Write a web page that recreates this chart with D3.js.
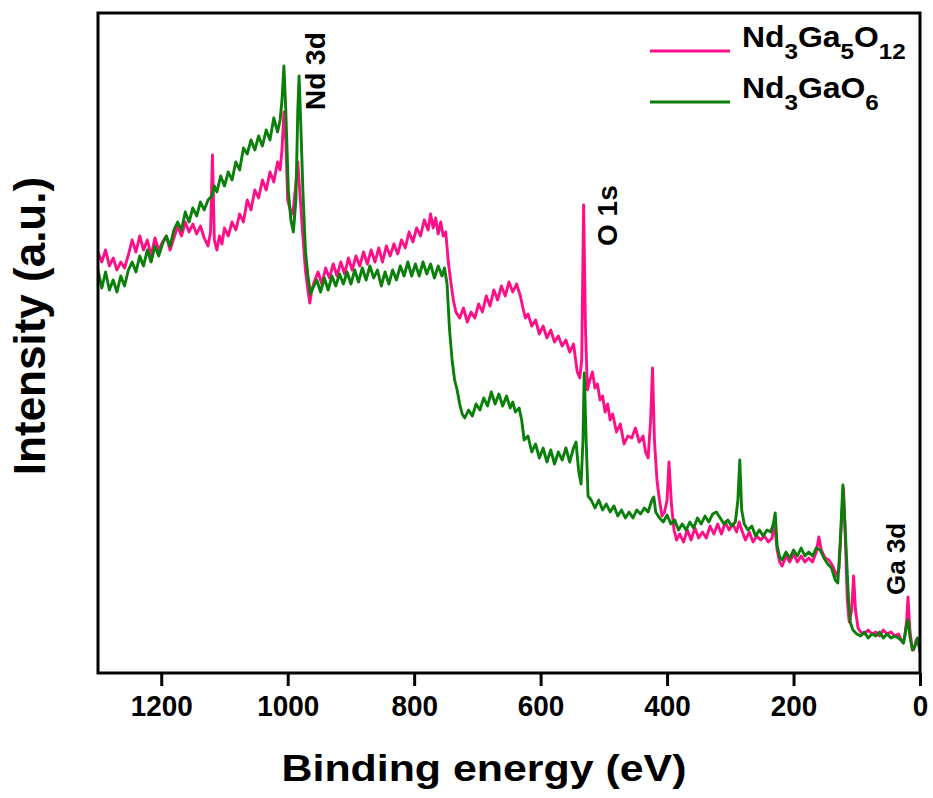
<!DOCTYPE html>
<html>
<head>
	<meta charset="utf-8">
	<title>XPS survey</title>
	<script src="https://d3js.org/d3.v7.min.js"></script>
	<style>
		body { margin: 0; background: #fff; }
		text { font-family: "Liberation Sans", Arial, sans-serif; font-weight: bold; fill: #000; }
	</style>
</head>
<body>

<div id="viz"></div>

<script>

// Nd3Ga5O12 survey (binding energy in eV, intensity in a.u.)
var garnetEnergy = [1300,1294,1288,1282,1276,1270,1264,1258,1252,1246,1240,1234,1228,1222,1216,1210,1204,1198,1192,1186,1180,1174,1168,1162,1156,1150,1144,1138,1132,1126,1122,1119,1116,1112,1108,1104,1100,1094,1088,1082,1076,1070,1064,1058,1052,1046,1040,1034,1028,1022,1016,1012,1009,1006,1003,1000,996,992,988,984,980,976,972,968,965,962,958,952,946,940,934,928,922,916,910,904,898,892,886,880,874,868,862,856,850,844,838,832,826,820,814,808,802,796,790,784,778,774,770,766,762,758,754,750,746,742,738,734,728,722,716,710,704,698,692,686,680,674,668,662,656,650,644,638,632,628,624,620,614,608,602,596,590,584,578,572,566,560,554,548,542,538,535,532,529,526,522,518,514,510,506,502,498,494,490,486,480,474,468,462,456,450,444,438,434,430,426,423,420,416,412,408,404,400,397,393,389,385,380,374,368,362,356,350,344,338,332,326,320,314,308,302,296,290,286,282,276,270,264,258,252,246,240,234,230,226,222,218,212,206,200,194,188,182,176,170,164,160,156,150,144,138,132,128,124,121,118,115,112,108,105,102,98,94,88,82,76,70,64,58,52,46,40,34,30,27,24,21,19,16,13,10,6,3,0];
var garnetCounts = [421,411,423,407,415,403,411,405,418,433,421,437,423,433,417,435,423,431,437,423,435,447,437,451,441,449,439,447,435,427,441,518,433,423,437,429,445,437,451,443,459,451,473,463,483,475,493,483,501,491,511,503,523,561,533,473,463,459,483,511,473,437,403,383,370,383,391,401,389,405,395,409,397,411,399,415,403,417,407,421,409,423,411,425,411,427,417,429,419,433,425,441,431,445,437,453,443,459,445,455,439,451,437,441,411,391,373,361,355,365,351,361,355,369,361,377,367,383,373,387,377,391,381,389,377,365,355,359,347,353,339,347,335,343,331,337,327,333,321,329,301,295,313,468,343,283,293,301,285,289,273,277,261,269,253,259,241,249,229,237,235,245,231,237,221,215,253,305,233,193,173,157,161,173,211,168,143,133,139,131,143,133,145,135,141,135,147,139,149,139,151,143,149,141,151,143,133,141,131,137,133,137,131,135,150,123,111,107,117,111,119,111,117,111,115,111,121,136,123,115,113,107,97,105,153,185,133,73,51,63,97,63,45,41,39,43,39,41,37,43,39,41,37,39,33,30,37,53,76,43,27,23,33,31,23];

// Nd3GaO6 survey
var oxideEnergy = [1300,1294,1288,1282,1276,1270,1264,1258,1252,1246,1240,1234,1228,1222,1216,1210,1204,1198,1192,1186,1180,1174,1168,1162,1156,1150,1144,1138,1132,1126,1120,1116,1112,1106,1100,1094,1088,1082,1076,1070,1064,1058,1052,1046,1040,1034,1028,1022,1016,1012,1009,1006,1003,999,995,991,987,984,982,979,976,972,968,964,960,954,948,942,936,930,924,918,912,906,900,894,888,882,876,870,864,858,852,846,840,834,828,822,816,810,804,798,792,786,780,774,768,762,756,752,748,744,740,736,732,728,724,720,714,708,702,696,690,684,678,672,666,660,654,648,644,640,634,630,626,620,614,608,602,596,590,584,578,572,566,560,554,548,544,540,536,533,531,528,525,520,514,508,502,496,490,484,478,472,466,460,454,448,442,436,430,424,421,418,412,406,400,394,388,382,376,370,364,358,352,346,340,334,328,322,316,310,304,298,292,288,285,282,278,272,266,260,254,248,242,236,232,229,226,222,218,212,206,200,194,188,182,176,170,164,158,152,146,140,134,130,126,122,119,116,113,110,106,100,94,88,82,76,70,64,58,52,46,40,34,30,26,22,19,16,12,8,4,2,0];
var oxideCounts = [403,385,401,383,393,381,397,387,403,411,401,417,407,423,411,427,417,429,437,427,443,451,443,461,451,465,457,471,463,473,477,487,481,497,487,501,493,511,503,525,519,533,523,537,527,543,533,555,541,553,573,607,563,483,453,441,473,563,597,543,483,423,397,379,385,393,381,395,383,397,387,399,389,401,389,403,391,405,393,407,395,403,387,401,389,403,393,407,397,411,397,409,397,411,399,409,395,407,397,405,389,343,313,293,283,269,259,255,263,257,269,263,275,267,281,269,279,267,277,265,271,261,265,253,233,237,221,229,215,225,211,223,209,221,213,225,211,225,231,203,189,233,300,233,177,173,165,173,163,169,161,167,157,163,155,161,155,163,159,165,161,173,176,161,155,151,158,149,153,143,149,143,151,145,155,149,157,151,159,161,155,149,153,147,151,173,213,163,149,143,147,137,143,137,143,141,149,160,128,116,113,121,115,123,117,125,117,121,117,125,123,115,109,105,93,90,133,188,153,113,73,50,43,39,37,41,35,39,37,41,35,39,35,37,35,33,30,45,53,37,23,27,35,29,20];

var seriesNames = ["Nd3Ga5O12", "Nd3GaO6"];
var seriesColors = ["#ff0f87", "#0a7f0a"];
var xTicks = [1200, 1000, 800, 600, 400, 200, 0];

// peak labels: text and binding energy where the label sits
var peakLabels = ["Nd 3d", "O 1s", "Ga 3d"];
var peakLabelEnergy = [941, 479, 24];
var peakLabelTop = [110, 246, 595];
var peakLabelSize = [28, 28, 26];

var W = 933, H = 798;
var margin = {top: 13, right: 13, bottom: 125, left: 98},
	width = W - margin.left - margin.right,
	height = H - margin.top - margin.bottom;

var svg = d3.select("#viz")
	.append("svg")
		.attr("width", W)
		.attr("height", H)
	.append("g")
		.attr("transform", "translate(" + margin.left + "," + margin.top + ")");

var x = d3.scaleLinear()
	.domain([1300, 0])
	.range([0, width]);

var y = d3.scaleLinear()
	.domain([0, 660])
	.range([height, 0]);

svg.append("clipPath")
	.attr("id", "clip")
	.append("rect")
		.attr("width", width)
		.attr("height", height);

var line = d3.line()
	.x(function(d) { return x(d[0]); })
	.y(function(d) { return y(d[1]); });

var garnet = d3.zip(garnetEnergy, garnetCounts);
var oxide = d3.zip(oxideEnergy, oxideCounts);

// pink first, green on top
[garnet, oxide].forEach(function(data, i) {
	svg.append("path")
		.datum(data)
		.attr("clip-path", "url(#clip)")
		.attr("fill", "none")
		.attr("stroke", seriesColors[i])
		.attr("stroke-width", 2.9)
		.attr("stroke-linejoin", "round")
		.attr("d", line);
});

// frame
svg.append("rect")
	.attr("width", width)
	.attr("height", height)
	.attr("fill", "none")
	.attr("stroke", "#000")
	.attr("stroke-width", 3);

// bottom axis
var xAxis = svg.append("g")
	.attr("transform", "translate(0," + height + ")")
	.call(d3.axisBottom(x).tickValues(xTicks).tickSize(13).tickPadding(9).tickFormat(d3.format("d")));
xAxis.select(".domain").remove();
xAxis.selectAll("line").attr("stroke", "#000").attr("stroke-width", 3);
xAxis.selectAll("text")
	.style("font-size", "30px")
	.style("font-family", "'Liberation Sans', Arial, sans-serif")
	.style("font-weight", "bold")
	.attr("fill", "#000")
	.attr("transform", "scale(0.93,1)");

// axis titles
svg.append("text")
	.attr("x", width / 2 - 25)
	.attr("y", 768)
	.attr("text-anchor", "middle")
	.attr("textLength", 405)
	.attr("lengthAdjust", "spacingAndGlyphs")
	.style("font-size", "36px")
	.text("Binding energy (eV)");

svg.append("text")
	.attr("transform", "translate(" + (45 - margin.left) + "," + (326 - margin.top) + ") rotate(-90)")
	.attr("text-anchor", "middle")
	.style("font-size", "44px")
	.text("Intensity (a.u.)");

// peak labels
peakLabels.forEach(function(t, i) {
	svg.append("text")
		.attr("transform", "translate(" + x(peakLabelEnergy[i]) + "," + (peakLabelTop[i] - margin.top) + ") rotate(-90)")
		.style("font-size", peakLabelSize[i] + "px")
		.text(t);
});

// legend
var legendRows = [
	[["Nd", 0], ["3", 1], ["Ga", 0], ["5", 1], ["O", 0], ["12", 1]],
	[["Nd", 0], ["3", 1], ["GaO", 0], ["6", 1]]
];
legendRows.forEach(function(parts, i) {
	var ly = 51 + i * 51 - margin.top;
	svg.append("line")
		.attr("x1", 650 - margin.left).attr("x2", 730 - margin.left)
		.attr("y1", ly).attr("y2", ly)
		.attr("stroke", seriesColors[i])
		.attr("stroke-width", 3);
	var t = svg.append("text")
		.attr("transform", "translate(" + (742 - margin.left) + "," + (ly + 8) + ") scale(1.1,1)")
		.style("font-size", "29px");
	parts.forEach(function(p) {
		t.append("tspan")
			.attr("dy", p[1] ? 12 : (t.selectAll("tspan").size() ? -12 : 0))
			.style("font-size", p[1] ? "22px" : "29px")
			.text(p[0]);
	});
});

</script>

</body>
</html>
